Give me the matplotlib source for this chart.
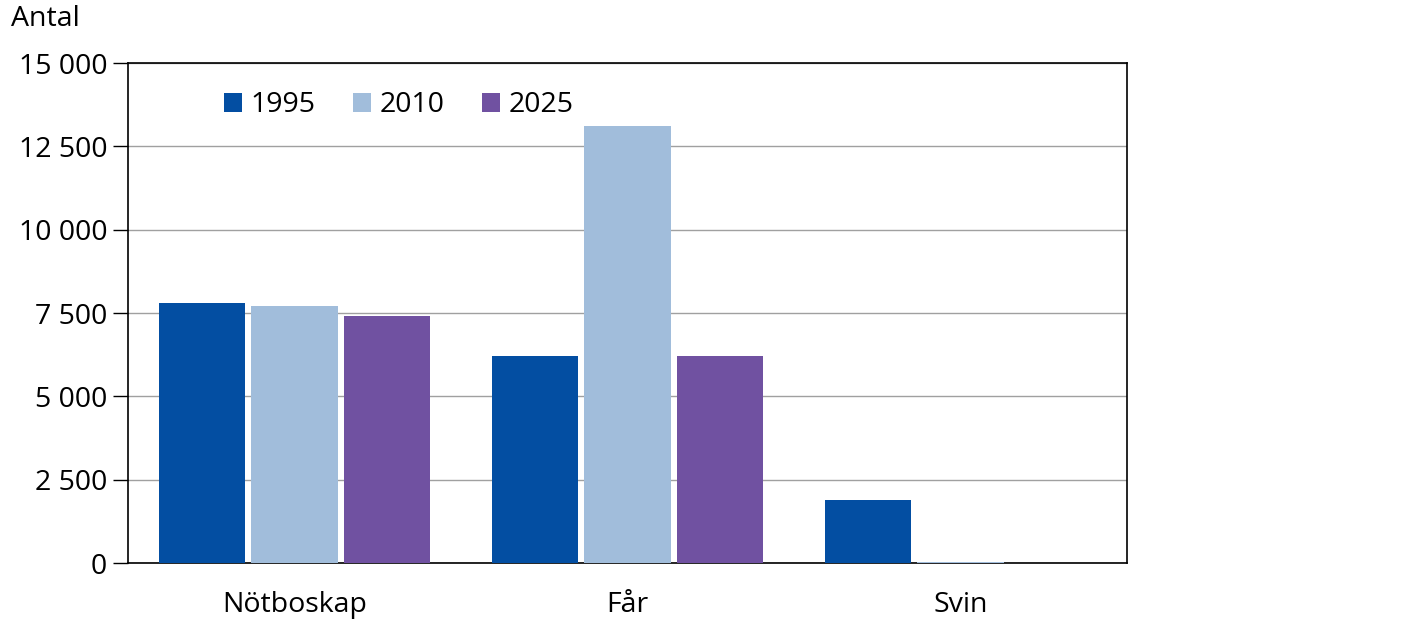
import numpy as np
import matplotlib
matplotlib.use('Agg')
import matplotlib.pyplot as plt

plt.rcParams['font.family'] = ['Open Sans', 'DejaVu Sans']

categories = ['Nötboskap', 'Får', 'Svin']
years = ['1995', '2010', '2025']
v1995 = [7800, 6200, 1900]
v2010 = [7700, 13100, 45]
v2025 = [7400, 6200, 0]
colors = ['#034ea2', '#a1bddb', '#7051a1']
yticks = [0, 2500, 5000, 7500, 10000, 12500, 15000]
ytick_labels = ['0', '2 500', '5 000', '7 500', '10 000', '12 500', '15 000']

fig = plt.figure(figsize=(14.04, 6.19), dpi=100)
ax = fig.add_axes([128/1404, 56/619, 999/1404, 500/619])

x = np.arange(len(categories))
w = 0.26
step = 0.278
for i, (vals, yr) in enumerate(zip([v1995, v2010, v2025], years)):
    ax.bar(x + (i - 1) * step, vals, width=w, color=colors[i], label=yr, zorder=3)

ax.set_xlim(-0.5, 2.5)
ax.set_ylim(0, 15000)
ax.set_yticks(yticks)
ax.set_yticklabels(ytick_labels)
ax.set_xticks(x)
ax.set_xticklabels(categories)
ax.grid(axis='y', color='#a0a0a0', linewidth=1, zorder=0)
for s in ax.spines.values():
    s.set_color('black')
    s.set_linewidth(1.2)
ax.tick_params(axis='y', length=11, width=1, labelsize=20.5, pad=4)
ax.tick_params(axis='x', length=0, labelsize=20.5, pad=20)

ax.text(-0.117, 1.06, 'Antal', transform=ax.transAxes, fontsize=20.5, ha='left', va='bottom')

ax.legend(loc='upper left', bbox_to_anchor=(0.07, 0.995), ncol=3, frameon=False,
          fontsize=20.5, handlelength=0.65, handleheight=0.65, handletextpad=0.3,
          columnspacing=1.3)

fig.savefig('out.png', dpi=100)
